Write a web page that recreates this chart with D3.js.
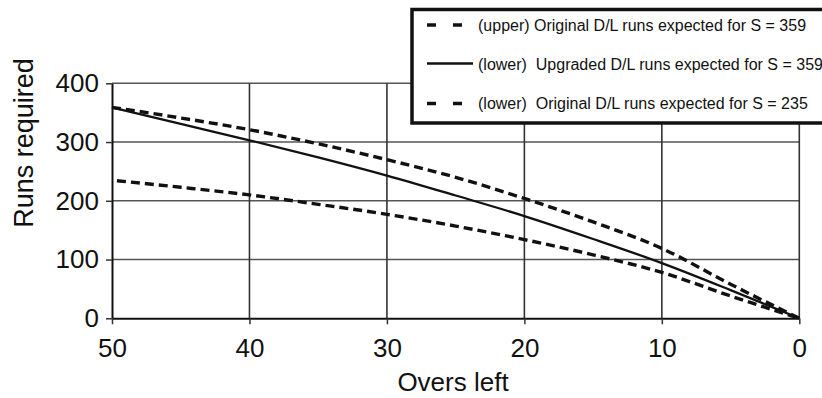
<!DOCTYPE html>
<html>
<head>
<meta charset="utf-8">
<script src="https://cdn.jsdelivr.net/npm/d3@7"></script>
<style>
  html, body { margin: 0; padding: 0; background: #fff; }
  svg { display: block; }
  text { font-family: "Liberation Sans", Arial, Helvetica, sans-serif; fill: #111; }
</style>
</head>
<body>
<svg id="chart" width="822" height="398"></svg>
<script>
// Overs remaining and the runs required at each point
const overs = [50, 45, 40, 35, 30, 25, 20, 15, 10, 5, 0];
const upperOriginal359 = [359, 341, 321, 297, 270, 240, 204, 164, 119, 58, 0];
const upgraded359 = [359, 331, 303, 274, 243, 209, 174, 135, 94, 48, 0];
const lowerOriginal235 = [235, 223, 210, 194, 177, 157, 134, 108, 78, 38, 0];

const xTicks = [50, 40, 30, 20, 10, 0];
const yTicks = [0, 100, 200, 300, 400];

const legendLabels = [
  "(upper) Original D/L runs expected for S = 359",
  "(lower)  Upgraded D/L runs expected for S = 359",
  "(lower)  Original D/L runs expected for S = 235"
];

const svg = d3.select("#chart");
svg.append("rect").attr("width", 822).attr("height", 398).attr("fill", "#fff");

const x = d3.scaleLinear().domain([50, 0]).range([112, 799.3]);
const y = d3.scaleLinear().domain([0, 400]).range([318.3, 83.3]);

// grid
const grid = svg.append("g");
grid.selectAll("line.h").data(yTicks.filter(d => d > 0)).join("line")
  .attr("x1", x(50)).attr("x2", x(0))
  .attr("y1", d => y(d)).attr("y2", d => y(d))
  .attr("stroke", "#555").attr("stroke-width", 1.6);
grid.selectAll("line.v").data(xTicks.filter(d => d < 50)).join("line")
  .attr("x1", d => x(d)).attr("x2", d => x(d))
  .attr("y1", y(0)).attr("y2", y(400))
  .attr("stroke", "#333").attr("stroke-width", 1.6);

// axes
const yAxis = svg.append("g")
  .attr("transform", `translate(${x(50)},0)`)
  .call(d3.axisLeft(y).tickValues(yTicks).tickSize(6).tickSizeOuter(0).tickPadding(7));
const xAxis = svg.append("g")
  .attr("transform", `translate(0,${y(0)})`)
  .call(d3.axisBottom(x).tickValues(xTicks).tickSize(6).tickSizeOuter(0).tickPadding(14));
[yAxis, xAxis].forEach(g => {
  g.select(".domain").attr("stroke", "#111").attr("stroke-width", 2);
  g.selectAll(".tick line").attr("stroke", "#333").attr("stroke-width", 1.5);
  g.selectAll(".tick text").attr("font-size", 26).attr("fill", "#111")
    .attr("font-family", "Liberation Sans, Arial, sans-serif");
});

// series lines
const line = d3.line()
  .x(d => x(d[0]))
  .y(d => y(d[1]))
  .curve(d3.curveMonotoneX);

const series = [
  { values: upperOriginal359, dash: "9,5", offset: 0, width: 3.4 },
  { values: upgraded359, dash: null, offset: 0, width: 2.3 },
  { values: lowerOriginal235, dash: "9,5", offset: 9, width: 3.4 }
];

svg.append("g").selectAll("path").data(series).join("path")
  .attr("d", s => line(overs.map((o, i) => [o, s.values[i]])))
  .attr("fill", "none")
  .attr("stroke", "#111")
  .attr("stroke-width", s => s.width)
  .attr("stroke-dasharray", s => s.dash)
  .attr("stroke-dashoffset", s => s.offset);

// axis titles
svg.append("text")
  .attr("transform", "translate(33,143) rotate(-90)")
  .attr("text-anchor", "middle")
  .attr("font-size", 27)
  .text("Runs required");
svg.append("text")
  .attr("x", 453).attr("y", 391)
  .attr("text-anchor", "middle")
  .attr("font-size", 26)
  .text("Overs left");

// legend
const legend = svg.append("g");
legend.append("rect")
  .attr("x", 412).attr("y", 9.5).attr("width", 430).attr("height", 113.5)
  .attr("fill", "#fff").attr("stroke", "#111").attr("stroke-width", 3.5);

const rows = [
  { label: legendLabels[0], dash: "9,17", width: 3.6, sy: 25, ty: 31 },
  { label: legendLabels[1], dash: null, width: 2.5, sy: 63.5, ty: 70 },
  { label: legendLabels[2], dash: "9,17", width: 3.6, sy: 103.5, ty: 109 }
];
const row = legend.selectAll("g.row").data(rows).join("g");
row.append("line")
  .attr("x1", 427).attr("x2", d => d.dash ? 462 : 473)
  .attr("y1", d => d.sy).attr("y2", d => d.sy)
  .attr("stroke", "#111")
  .attr("stroke-width", d => d.width)
  .attr("stroke-dasharray", d => d.dash);
row.append("text")
  .attr("x", 478).attr("y", d => d.ty)
  .attr("font-size", 16)
  .attr("xml:space", "preserve")
  .style("white-space", "pre")
  .text(d => d.label);
</script>
</body>
</html>
